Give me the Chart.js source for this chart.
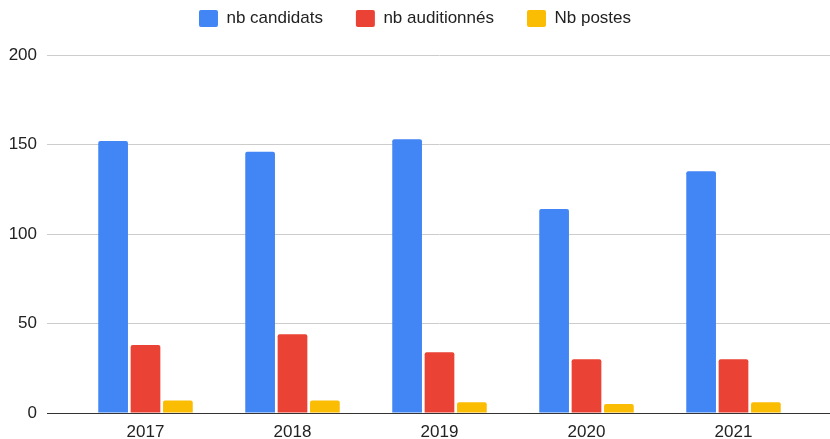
<!DOCTYPE html>
<html>
<head>
<meta charset="utf-8">
<script src="https://cdn.jsdelivr.net/npm/chart.js@4"></script>
<style>
html,body{margin:0;padding:0;background:#fff;}
#wrap{width:830px;height:439px;}
</style>
</head>
<body>
<div id="wrap"><canvas id="c" width="830" height="439"></canvas></div>
<script>
const categories = ["2017", "2018", "2019", "2020", "2021"];
const seriesNames = ["nb candidats", "nb auditionnés", "Nb postes"];
const candidats = [152, 146, 153, 114, 135];
const auditionnes = [38, 44, 34, 30, 30];
const postes = [7, 7, 6, 5, 6];
const yTicks = [0, 50, 100, 150, 200];

const colors = ["#4285F4", "#EA4335", "#FBBC04"];
const FONT = "Arial, 'Liberation Sans', sans-serif";

const gridColor = (ctx) => (ctx.tick && ctx.tick.value === 0) ? "#333333" : "#cccccc";

// Fix the legend block height so the plot area starts where the reference's does
const legendHeightPlugin = {
  id: "legendHeight",
  afterInit(chart) {
    const lg = chart.legend;
    if (!lg) return;
    const orig = lg.fit.bind(lg);
    lg.fit = function () { orig(); this.height = 78; };
  }
};

new Chart(document.getElementById("c"), {
  type: "bar",
  data: {
    labels: categories,
    datasets: [candidats, auditionnes, postes].map((d, i) => ({
      label: seriesNames[i],
      data: d,
      backgroundColor: colors[i],
      borderRadius: { topLeft: 2, topRight: 2, bottomLeft: 0, bottomRight: 0 },
      borderSkipped: "bottom",
      categoryPercentage: 0.661,
      barPercentage: 0.917
    }))
  },
  plugins: [legendHeightPlugin],
  options: {
    responsive: false,
    animation: false,
    devicePixelRatio: 1,
    layout: { padding: { top: -23, left: 0, right: 0, bottom: 0 } },
    plugins: {
      tooltip: { enabled: false },
      legend: {
        position: "top",
        align: "center",
        labels: {
          color: "#222222",
          font: { family: FONT, size: 17 },
          boxWidth: 19,
          boxHeight: 17,
          useBorderRadius: true,
          borderRadius: 2,
          padding: 33
        }
      }
    },
    scales: {
      x: {
        grid: { display: false, drawTicks: false },
        border: { display: true, color: "#333333", width: 1 },
        ticks: { color: "#222222", font: { family: FONT, size: 17 }, padding: 9 },
        afterFit: (s) => { s.height = 26; }
      },
      y: {
        position: "left",
        min: 0,
        max: 200,
        afterBuildTicks: (s) => { s.ticks = yTicks.map(v => ({ value: v })); },
        grid: { color: gridColor, lineWidth: 1, tickLength: 25, tickColor: gridColor },
        border: { display: false },
        ticks: { color: "#222222", font: { family: FONT, size: 17 }, padding: 10 },
        afterFit: (s) => { s.width = 72; }
      },
      y2: {
        position: "right",
        min: 0,
        max: 200,
        afterBuildTicks: (s) => { s.ticks = yTicks.map(v => ({ value: v })); },
        grid: { color: gridColor, lineWidth: 1, tickLength: 23, tickColor: gridColor, drawOnChartArea: false },
        border: { display: false },
        ticks: { display: false },
        afterFit: (s) => { s.width = 23; }
      }
    }
  }
});
</script>
</body>
</html>
